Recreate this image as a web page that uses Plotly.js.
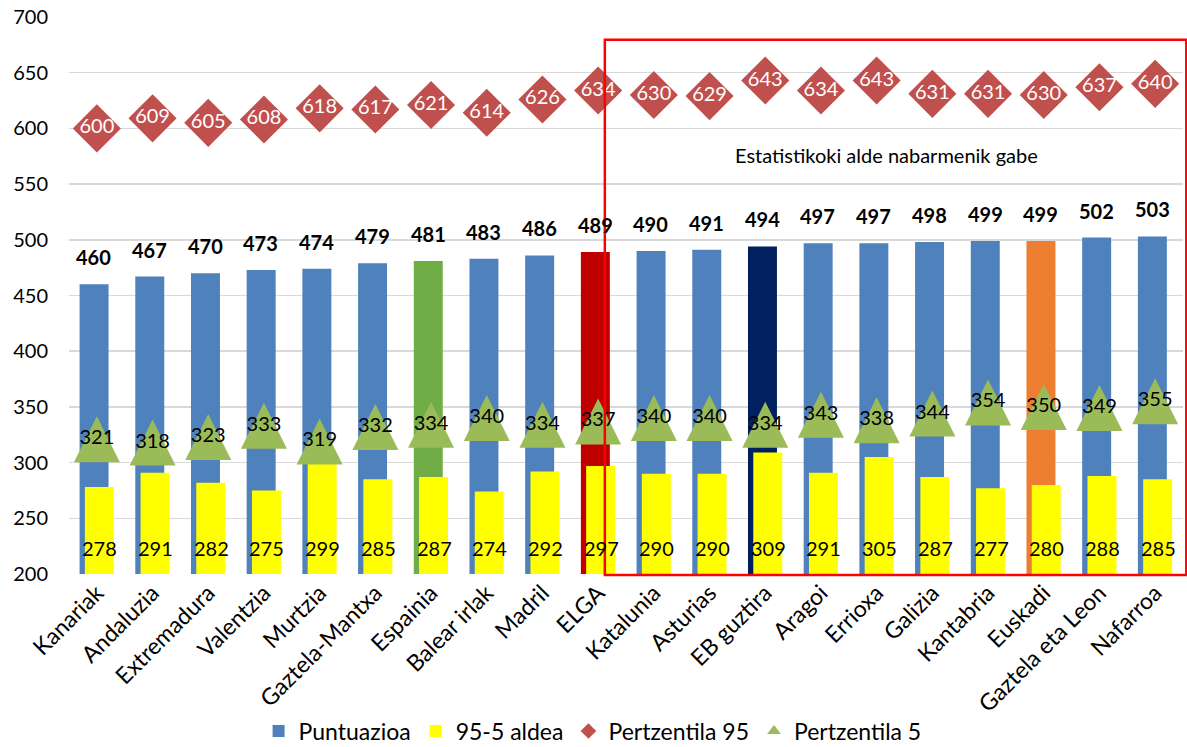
<!DOCTYPE html>
<html>
<head>
<meta charset="utf-8">
<script src="https://cdn.plot.ly/plotly-3.0.1.min.js"></script>
<style>html,body{margin:0;padding:0;background:#fff;}#chart{width:1187px;height:747px;}</style>
</head>
<body>
<div id="chart"></div>
<script>
const categories = ["Kanariak","Andaluzia","Extremadura","Valentzia","Murtzia","Gaztela-Mantxa","Espainia","Balear irlak","Madril","ELGA","Katalunia","Asturias","EB guztira","Aragoi","Errioxa","Galizia","Kantabria","Euskadi","Gaztela eta Leon","Nafarroa"];
const puntuazioa = [460,467,470,473,474,479,481,483,486,489,490,491,494,497,497,498,499,499,502,503];
const aldea = [278,291,282,275,299,285,287,274,292,297,290,290,309,291,305,287,277,280,288,285];
const pertzentila95 = [600,609,605,608,618,617,621,614,626,634,630,629,643,634,643,631,631,630,637,640];
const pertzentila5 = [321,318,323,333,319,332,334,340,334,337,340,340,334,343,338,344,354,350,349,355];
const yTicks = [200,250,300,350,400,450,500,550,600,650,700];
const boxLabel = "Estatistikoki alde nabarmenik gabe";

const highlight = {"Espainia":"#70AD47","ELGA":"#C00000","EB guztira":"#002060","Euskadi":"#ED7D31"};
const blueColors = categories.map(c => highlight[c] || "#4F81BD");
const FONT = "Lato, 'Open Sans', sans-serif";

const traces = [
  {type:"bar", name:"Puntuazioa", x:categories, y:puntuazioa, marker:{color:blueColors},
   width:0.52, offset:-0.31, hoverinfo:"skip"},
  {type:"bar", name:"95-5 aldea", x:categories, y:aldea, marker:{color:"#FFFF00"},
   width:0.52, offset:-0.215, hoverinfo:"skip"},
  {type:"scatter", mode:"markers+text", name:"Pertzentila 95", x:categories, y:pertzentila95,
   marker:{symbol:"diamond", size:37, color:"#C0504D"},
   text:pertzentila95.map(String), textposition:"middle center",
   textfont:{family:FONT, size:20, color:"#FFFFFF"}, hoverinfo:"skip"},
  {type:"scatter", mode:"markers", name:"Pertzentila 5", x:categories, y:pertzentila5,
   marker:{symbol:"triangle-up", size:14, color:"#9BBB59"}, hoverinfo:"skip"},
  {type:"scatter", mode:"markers+text", name:"Pertzentila 5", x:categories, y:pertzentila5, showlegend:false,
   marker:{symbol:"arrow-down", angle:180, standoff:23, size:46, color:"#9BBB59"},
   text:pertzentila5.map(String), textposition:"middle center",
   textfont:{family:FONT, size:20, color:"#000000"}, hoverinfo:"skip"}
];

const annotations = [];
categories.forEach((c,i) => {
  annotations.push({x:c, y:puntuazioa[i], xref:"x", yref:"y", text:"<b>"+puntuazioa[i]+"</b>",
    showarrow:false, yshift:27, xshift:-3, xanchor:"center", yanchor:"middle",
    font:{family:FONT, size:20, color:"#000"}});
  annotations.push({x:c, y:0, xref:"x", yref:"paper", text:String(aldea[i]),
    showarrow:false, yshift:26, xshift:3, xanchor:"center", yanchor:"middle",
    font:{family:FONT, size:20, color:"#000"}});
});
annotations.push({x:0.734, y:0.752, xref:"paper", yref:"paper", text:boxLabel, showarrow:false,
  xanchor:"center", yanchor:"middle", font:{family:FONT, size:20, color:"#000"}});

const layout = {
  width:1187, height:747,
  autosize:false,
  margin:{l:69, r:4, t:17, b:173, autoexpand:false},
  paper_bgcolor:"#fff", plot_bgcolor:"#fff",
  font:{family:FONT, size:20, color:"#000"},
  barmode:"overlay",
  showlegend:true,
  legend:{orientation:"h", x:0.47, xanchor:"center", y:-0.282, yanchor:"middle",
    font:{family:FONT, size:23, color:"#000"}, traceorder:"normal", itemsizing:"constant"},
  xaxis:{type:"category", range:[-0.5, categories.length-0.5], tickangle:-45,
    tickfont:{family:FONT, size:23, color:"#000"},
    showgrid:false, zeroline:false, showline:false, ticks:"", automargin:false},
  yaxis:{range:[200,700], tickvals:yTicks, ticktext:yTicks.map(String), showgrid:true, gridcolor:"#D9D9D9", gridwidth:1.5,
    zeroline:false, showline:false, ticks:"", ticklabelstandoff:20, tickfont:{family:FONT, size:20, color:"#000"}, automargin:false},
  annotations:annotations,
  shapes:[{type:"rect", xref:"paper", yref:"paper", x0:0.481, x1:1.003, y0:-0.002, y1:0.959,
    line:{color:"#FF0000", width:2.5}, fillcolor:"rgba(0,0,0,0)", layer:"above"}]
};

Plotly.newPlot("chart", traces, layout, {displayModeBar:false, staticPlot:true});
</script>
</body>
</html>
